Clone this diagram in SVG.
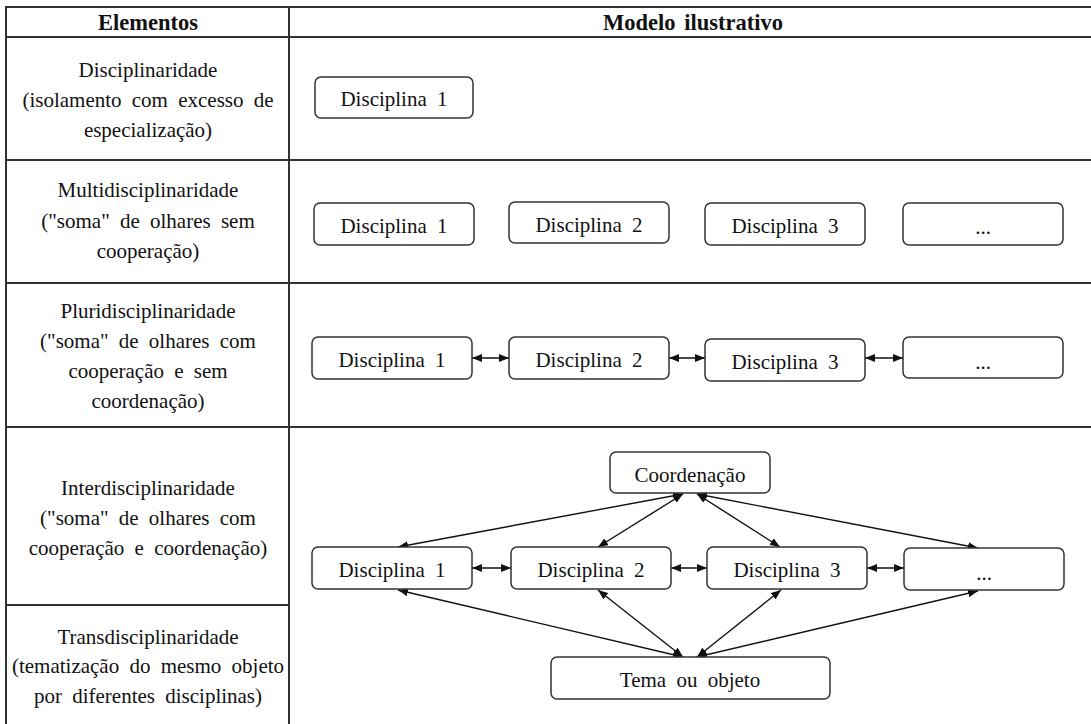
<svg xmlns="http://www.w3.org/2000/svg" width="1091" height="724" viewBox="0 0 1091 724">
<style>
.t{font-family:'Liberation Serif','Times New Roman','DejaVu Serif',serif;font-size:21px;fill:#111;text-anchor:middle;word-spacing:5px}
.h{font-weight:bold;font-size:22.5px;word-spacing:3px}
.grid{stroke:#333;stroke-width:2;fill:none}
.box{fill:#fff;stroke:#333;stroke-width:1.5}
.c{stroke:#111;stroke-width:1.4;fill:none;marker-start:url(#ah);marker-end:url(#ah)}
</style>
<defs>
<marker id="ah" viewBox="0 0 10 8" refX="10" refY="4" markerWidth="10" markerHeight="8" markerUnits="userSpaceOnUse" orient="auto-start-reverse">
<path d="M0,0 L10,4 L0,8 z" fill="#111"/>
</marker>
</defs>
<rect width="1091" height="724" fill="#fff"/>
<g id="table">
<line class="grid" x1="6" y1="7" x2="1091" y2="7"/>
<line class="grid" x1="6" y1="37" x2="1091" y2="37"/>
<line class="grid" x1="6" y1="160" x2="1091" y2="160"/>
<line class="grid" x1="6" y1="283" x2="1091" y2="283"/>
<line class="grid" x1="6" y1="427" x2="1091" y2="427"/>
<line class="grid" x1="6" y1="605" x2="289" y2="605"/>
<line class="grid" x1="6" y1="6" x2="6" y2="724"/>
<line class="grid" x1="289" y1="6" x2="289" y2="724"/>
<text class="t h" x="148" y="30">Elementos</text>
<text class="t h" x="693" y="30">Modelo ilustrativo</text>
<text class="t" x="148" y="77">Disciplinaridade</text>
<text class="t" x="148" y="107">(isolamento com excesso de</text>
<text class="t" x="148" y="137">especialização)</text>
<text class="t" x="148" y="197">Multidisciplinaridade</text>
<text class="t" x="148" y="228">("soma" de olhares sem</text>
<text class="t" x="148" y="258">cooperação)</text>
<text class="t" x="148" y="318">Pluridisciplinaridade</text>
<text class="t" x="148" y="348">("soma" de olhares com</text>
<text class="t" x="148" y="378">cooperação e sem</text>
<text class="t" x="148" y="408">coordenação)</text>
<text class="t" x="148" y="495">Interdisciplinaridade</text>
<text class="t" x="148" y="525">("soma" de olhares com</text>
<text class="t" x="148" y="555">cooperação e coordenação)</text>
<text class="t" x="148" y="644">Transdisciplinaridade</text>
<text class="t" x="148" y="673">(tematização do mesmo objeto</text>
<text class="t" x="148" y="703">por diferentes disciplinas)</text>
</g>
<g id="connectors">
<line class="c" x1="472" y1="358" x2="509" y2="358"/>
<line class="c" x1="669" y1="358" x2="705" y2="358"/>
<line class="c" x1="865" y1="358" x2="903" y2="358"/>
<line class="c" x1="472" y1="568" x2="511" y2="568"/>
<line class="c" x1="671" y1="568" x2="707" y2="568"/>
<line class="c" x1="867" y1="568" x2="904" y2="568"/>
<line class="c" x1="683" y1="494" x2="398" y2="547"/>
<line class="c" x1="683" y1="494" x2="598" y2="547"/>
<line class="c" x1="697" y1="494" x2="780" y2="547"/>
<line class="c" x1="697" y1="494" x2="978" y2="548"/>
<line class="c" x1="683" y1="657" x2="398" y2="590"/>
<line class="c" x1="683" y1="657" x2="598" y2="590"/>
<line class="c" x1="697" y1="657" x2="781" y2="590"/>
<line class="c" x1="697" y1="657" x2="978" y2="591"/>
</g>
<g id="r1-d1"><rect class="box" x="315" y="77" width="158" height="41" rx="6"/><text class="t" x="394" y="106">Disciplina 1</text></g>
<g id="r2-d1"><rect class="box" x="314" y="203" width="160" height="42" rx="6"/><text class="t" x="394" y="233">Disciplina 1</text></g>
<g id="r2-d2"><rect class="box" x="509" y="202" width="160" height="41" rx="6"/><text class="t" x="589" y="232">Disciplina 2</text></g>
<g id="r2-d3"><rect class="box" x="705" y="203" width="160" height="42" rx="6"/><text class="t" x="785" y="233">Disciplina 3</text></g>
<g id="r2-etc"><rect class="box" x="903" y="203" width="160" height="42" rx="6"/><text class="t" x="983" y="234">...</text></g>
<g id="r3-d1"><rect class="box" x="312" y="337" width="160" height="42" rx="6"/><text class="t" x="392" y="367">Disciplina 1</text></g>
<g id="r3-d2"><rect class="box" x="509" y="337" width="160" height="42" rx="6"/><text class="t" x="589" y="367">Disciplina 2</text></g>
<g id="r3-d3"><rect class="box" x="705" y="339" width="160" height="42" rx="6"/><text class="t" x="785" y="369">Disciplina 3</text></g>
<g id="r3-etc"><rect class="box" x="903" y="337" width="160" height="41" rx="6"/><text class="t" x="983" y="369">...</text></g>
<g id="coord"><rect class="box" x="610" y="452" width="160" height="41" rx="6"/><text class="t" x="690" y="482">Coordenação</text></g>
<g id="r4-d1"><rect class="box" x="312" y="547" width="160" height="42" rx="6"/><text class="t" x="392" y="577">Disciplina 1</text></g>
<g id="r4-d2"><rect class="box" x="511" y="547" width="160" height="42" rx="6"/><text class="t" x="591" y="577">Disciplina 2</text></g>
<g id="r4-d3"><rect class="box" x="707" y="547" width="160" height="42" rx="6"/><text class="t" x="787" y="577">Disciplina 3</text></g>
<g id="r4-etc"><rect class="box" x="904" y="548" width="160" height="42" rx="6"/><text class="t" x="984" y="580">...</text></g>
<g id="tema"><rect class="box" x="551" y="657" width="279" height="42" rx="6"/><text class="t" x="690" y="687">Tema ou objeto</text></g>
</svg>
